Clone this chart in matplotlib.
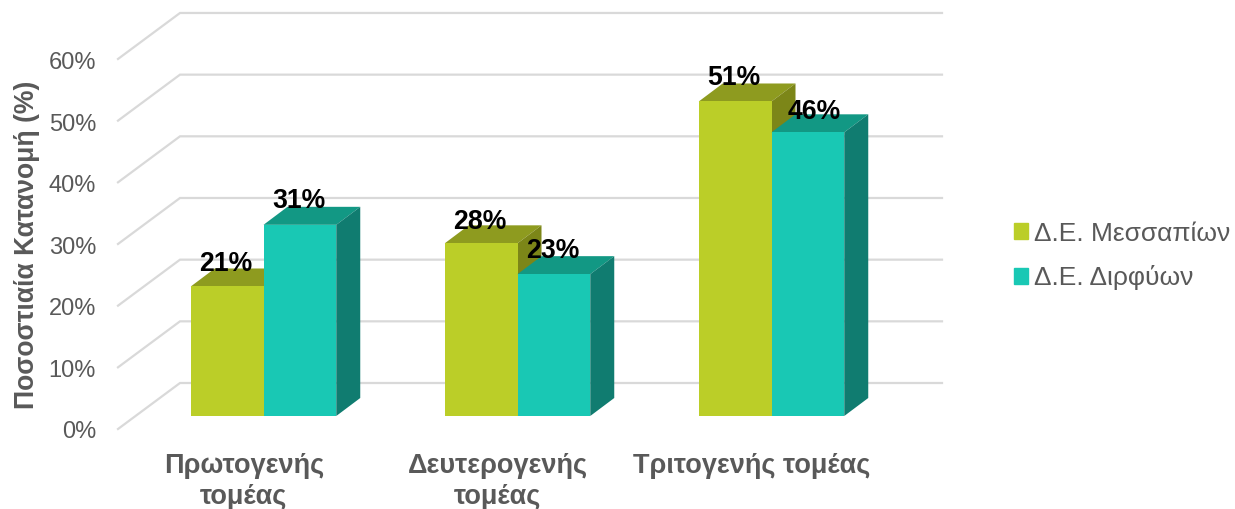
import matplotlib
matplotlib.use('Agg')
import matplotlib.pyplot as plt
from matplotlib.patches import Polygon, Patch

plt.rcParams['font.family'] = ['Liberation Sans', 'DejaVu Sans']

categories = ['Πρωτογενής\nτομέας', 'Δευτερογενής\nτομέας', 'Τριτογενής τομέας']
series_names = ['Δ.Ε. Μεσσαπίων', 'Δ.Ε. Διρφύων']
messapion = [21, 28, 51]
dirfyon = [31, 23, 46]
yticks = [0, 10, 20, 30, 40, 50, 60]

W, H = 1235, 509
PX_PER_PCT = 6.167
PX_PER_CAT = 254.0

fig = plt.figure(figsize=(W / 100, H / 100), dpi=100)
ax = fig.add_axes([0, 0, 1, 1])
# x in categories, y in percent; limits put them where the reference has them
ax.set_xlim((0 - 263.5) / PX_PER_CAT, (W - 263.5) / PX_PER_CAT)
ax.set_ylim((416 - H) / PX_PER_PCT, 416 / PX_PER_PCT)
ax.axis('off')

bar_w = 72.75 / PX_PER_CAT
dep_x = 24 / PX_PER_CAT
dep_y = 18 / PX_PER_PCT

# floor offsets of the wall relative to the bar base
wall_x0 = (118 - 263.5) / PX_PER_CAT
wall_x1 = (180 - 263.5) / PX_PER_CAT
wall_x2 = (942 - 263.5) / PX_PER_CAT
front_y = -13 / PX_PER_PCT
back_y = 33 / PX_PER_PCT

grid_c = '#d9d9d9'
for t in yticks:
    ax.plot([wall_x0, wall_x1, wall_x2], [t + front_y, t + back_y, t + back_y],
            color=grid_c, lw=1.6, solid_joinstyle='miter', zorder=1)
    ax.text((96 - 263.5) / PX_PER_CAT, t * 0.9975 + front_y - 1 / PX_PER_PCT, f'{t}%', ha='right',
            va='center_baseline', fontsize=17, color='#595959')


def draw_bar(x0, v, front, top, side):
    x1 = x0 + bar_w
    ax.add_patch(Polygon([(x0, v), (x1, v), (x1 + dep_x, v + dep_y), (x0 + dep_x, v + dep_y)],
                         fc=top, ec='none', zorder=3))
    ax.add_patch(Polygon([(x1, 0), (x1 + dep_x, dep_y), (x1 + dep_x, v + dep_y), (x1, v)],
                         fc=side, ec='none', zorder=3))
    ax.bar(x0, v, width=bar_w, align='edge', color=front, zorder=3)


for i in range(len(categories)):
    draw_bar(i - bar_w, messapion[i], '#bbce28', '#8e9b1f', '#7c8618')
    draw_bar(i, dirfyon[i], '#19c8b4', '#129884', '#107c70')

label_shift = [0, 0, 7]
lift_a = [18.6, 17.6, 18.8]
lift_b = [19.6, 18.6, 17.0]
for i in range(len(categories)):
    ax.annotate(f'{messapion[i]}%', (i - bar_w / 2, messapion[i]), xytext=(-0.7, lift_a[i]),
                textcoords='offset points', ha='center', va='center_baseline',
                fontsize=19.2, fontweight='bold', color='black', zorder=5)
    ax.annotate(f'{dirfyon[i]}%', (i + bar_w / 2, dirfyon[i]), xytext=(label_shift[i] * 0.72 - 0.7, lift_b[i]),
                textcoords='offset points', ha='center', va='center_baseline',
                fontsize=19.2, fontweight='bold', color='black', zorder=5)
    ax.text(i - 19.5 / PX_PER_CAT, (416 - 453) / PX_PER_PCT, categories[i], ha='center', va='top',
            fontsize=19.5, fontweight='bold', color='#595959', linespacing=1.25)

fig.text(27 / W, 1 - 245 / H, 'Ποσοστιαία Κατανομή (%)', rotation=90, ha='center', va='center',
         fontsize=19.1, fontweight='bold', color='#595959')

handles = [Patch(color='#bbce28'), Patch(color='#19c8b4')]
ax.legend(handles, series_names, loc='center left', bbox_to_anchor=(1003 / W, 1 - 256 / H),
          frameon=False, fontsize=19, labelcolor='#595959', handlelength=0.53, handleheight=0.53,
          handletextpad=0.23, labelspacing=0.75, borderpad=0, borderaxespad=0.42)

fig.savefig('out.png', dpi=100)
